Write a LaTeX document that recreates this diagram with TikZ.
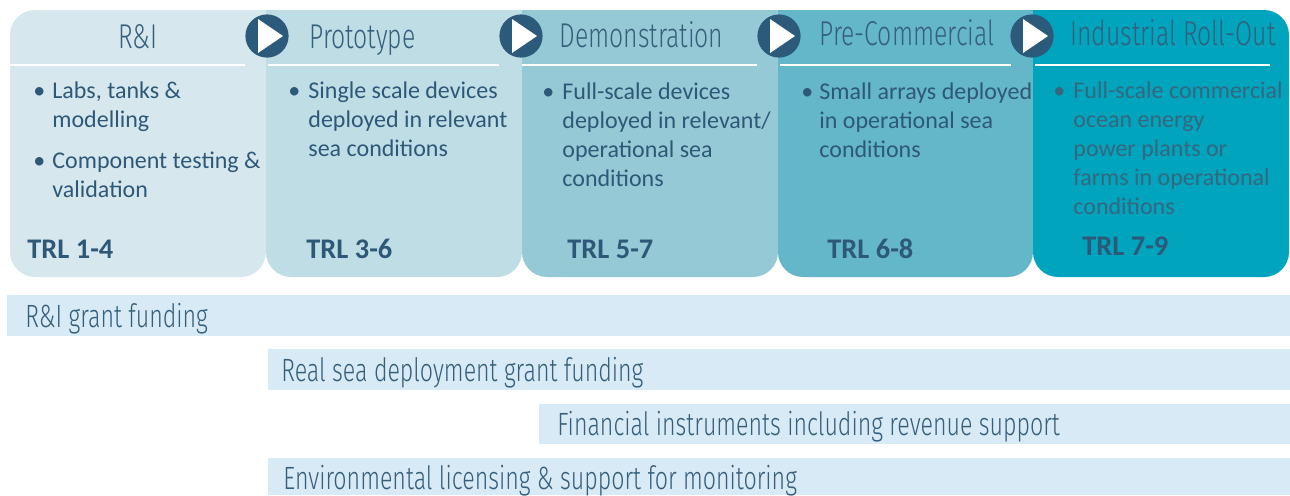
\documentclass[tikz,border=0pt]{standalone}
\usepackage{fontspec}
\setmainfont{Carlito}
\newfontfamily\headfont{Fira Sans Light}[FakeStretch=0.72]

\definecolor{pone}{HTML}{D6E8EE}
\definecolor{ptwo}{HTML}{BFDDE5}
\definecolor{pthree}{HTML}{96C9D6}
\definecolor{pfour}{HTML}{64B6C9}
\definecolor{pfive}{HTML}{00A4BD}
\definecolor{navy}{HTML}{2B5A7A}
\definecolor{textc}{HTML}{2E5877}
\definecolor{titlec}{HTML}{365F7C}
\definecolor{fadec}{HTML}{36677F}
\definecolor{barc}{HTML}{D7EAF5}

\newcommand{\lines}[1]{\parbox[t]{8cm}{\raggedright #1}}

\begin{document}
\begin{tikzpicture}[x=0.5pt,y=-0.5pt,
    stage/.style={circle,fill=navy,inner sep=0pt,minimum size=21.6pt},
    title/.style={font=\headfont\fontsize{17.2}{19}\selectfont,text=titlec,inner sep=0pt,anchor=base west},
    item/.style={font=\fontsize{12}{14.6}\selectfont,text=textc,inner sep=0pt,anchor=base west},
    trl/.style={font=\bfseries\fontsize{14.2}{16}\selectfont,text=textc,inner sep=0pt,anchor=base west},
    fund/.style={font=\headfont\fontsize{16.1}{18}\selectfont,text=titlec,inner sep=0pt,anchor=base west}]
\useasboundingbox (0,0) rectangle (1290,495);

% stage panels
\fill[pone,rounded corners=12.5pt] (10,10) rectangle (266,277);
\fill[pone] (60,10) rectangle (266,150);
\fill[ptwo,rounded corners=12.5pt] (266,10) rectangle (522,277);
\fill[ptwo] (266,10) rectangle (522,150);
\fill[pthree,rounded corners=12.5pt] (522,10) rectangle (778,277);
\fill[pthree] (522,10) rectangle (778,150);
\fill[pfour,rounded corners=12.5pt] (778,10) rectangle (1033,277);
\fill[pfour] (778,10) rectangle (1033,150);
\fill[pfive,rounded corners=12.5pt] (1033,10) rectangle (1289,277);
\fill[pfive] (1033,10) rectangle (1240,150);

% header rules
\draw[white,line width=1pt] (10,65) -- (245,65);
\draw[white,line width=1pt] (268,65) -- (499,65);
\draw[white,line width=1pt] (522,65) -- (757,65);
\draw[white,line width=1pt] (780,65) -- (1011,65);
\draw[white,line width=1pt] (1035,65) -- (1270,65);

% arrows between stages
\foreach \n/\x in {1/267,2/521,3/779,4/1032}{
  \node[stage] (arr\n) at (\x,36) {};
  \fill[white] (arr\n.center) ++(-9,-17) -- ++(25,17) -- ++(-25,17) -- cycle;
}

% titles
\node[title,anchor=base] (tri) at (138,48) {R\&I};
\node[title] (tproto) at (309,48) {Prototype};
\node[title] (tdemo) at (559,47) {Demonstration};
\node[title] (tprecom) at (819,45) {Pre-Commercial};
\node[title] (tindus) at (1070,45) {Industrial Roll-Out};

% bullets
\node[item] (b1) at (33,98) {\textbullet};
\node[item] (l1) at (52,98) {\lines{Labs, tanks \&\\modelling}};
\node[item] (b1b) at (33,168) {\textbullet};
\node[item] (l1b) at (52,168) {\lines{Component testing \&\\validation}};
\node[item] (b2) at (288,98) {\textbullet};
\node[item] (l2) at (308,98) {\lines{Single scale devices\\deployed in relevant\\sea conditions}};
\node[item] (b3) at (542,99) {\textbullet};
\node[item] (l3) at (562,99) {\lines{Full-scale devices\\deployed in relevant/\\operational sea\\conditions}};
\node[item] (b4) at (801,99) {\textbullet};
\node[item] (l4) at (819,99) {\lines{Small arrays deployed\\in operational sea\\conditions}};
\node[item,text=fadec] (b5) at (1053,98) {\textbullet};
\node[item,text=fadec] (l5) at (1073,98) {\lines{Full-scale commercial\\ocean energy\\power plants or\\farms in operational\\conditions}};

% readiness levels
\node[trl] (trl1) at (27,258) {TRL 1-4};
\node[trl] (trl2) at (306,258) {TRL 3-6};
\node[trl] (trl3) at (567,258) {TRL 5-7};
\node[trl] (trl4) at (827,258) {TRL 6-8};
\node[trl] (trl5) at (1082,255) {TRL 7-9};

% support bars
\fill[barc] (7,295) rectangle (1290,336);
\fill[barc] (268,349) rectangle (1290,390);
\fill[barc] (539,404) rectangle (1290,444);
\fill[barc] (268,458) rectangle (1290,495);
\node[fund] (f1) at (25,327) {R\&I grant funding};
\node[fund] (f2) at (281,381) {Real sea deployment grant funding};
\node[fund] (f3) at (557,435) {Financial instruments including revenue support};
\node[fund] (f4) at (283,489) {Environmental licensing \& support for monitoring};
\end{tikzpicture}
\end{document}
